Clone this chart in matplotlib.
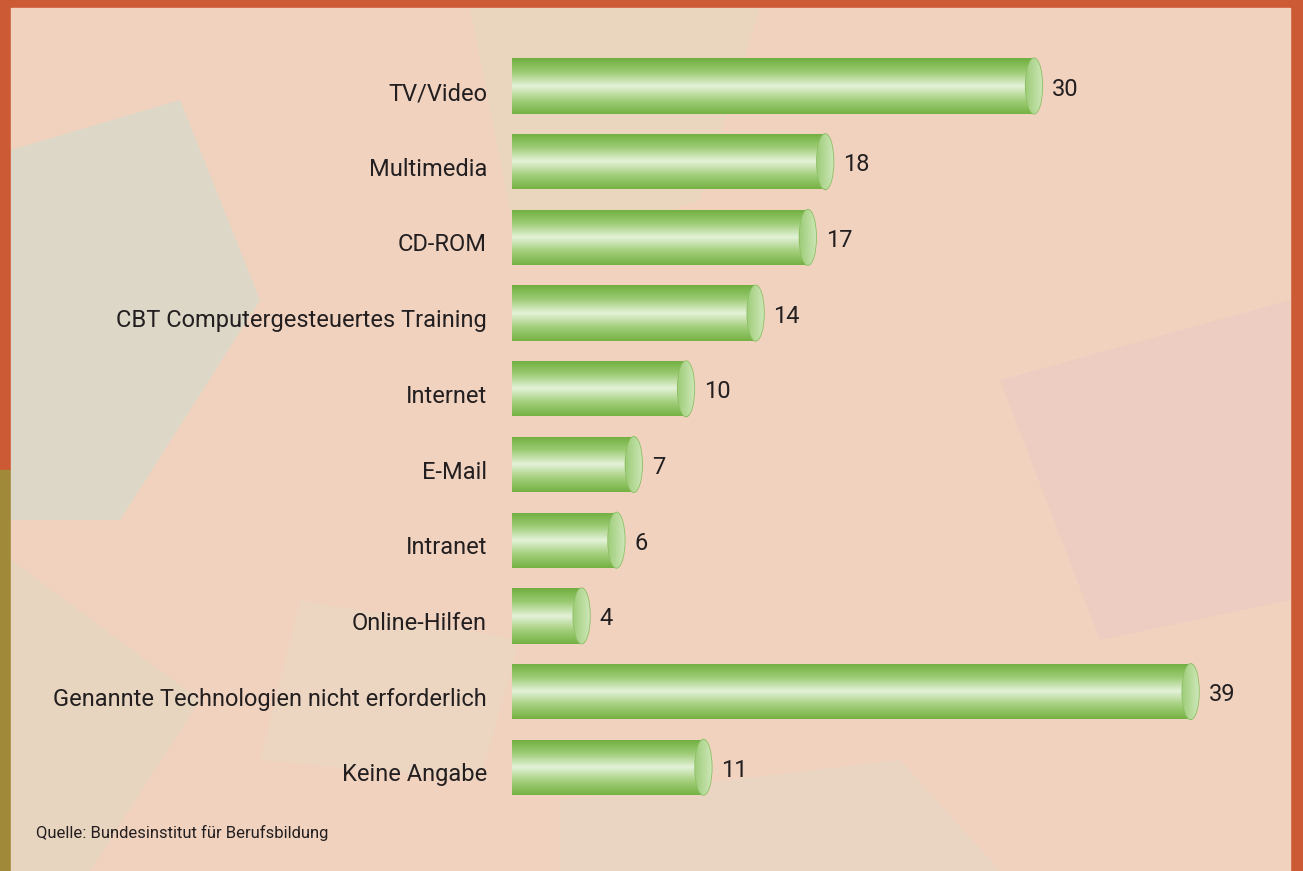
import numpy as np
import matplotlib
matplotlib.use("Agg")
import matplotlib.pyplot as plt
from matplotlib import font_manager
from matplotlib.patches import Ellipse, Rectangle, Polygon
from matplotlib.colors import LinearSegmentedColormap

# Daten
categories = [
    "TV/Video",
    "Multimedia",
    "CD-ROM",
    "CBT Computergesteuertes Training",
    "Internet",
    "E-Mail",
    "Intranet",
    "Online-Hilfen",
    "Genannte Technologien nicht erforderlich",
    "Keine Angabe",
]
values = [30, 18, 17, 14, 10, 7, 6, 4, 39, 11]
source = "Quelle: Bundesinstitut für Berufsbildung"

# Schrift
names = {f.name for f in font_manager.fontManager.ttflist}
family = ["Liberation Sans Narrow", "DejaVu Sans"] if "Liberation Sans Narrow" in names else ["Roboto", "DejaVu Sans"]
plt.rcParams["font.family"] = family

W, H = 1303, 871
fig = plt.figure(figsize=(W / 100, H / 100), dpi=100)
fig.patch.set_facecolor("#c9573b")

# Hintergrund
bg = fig.add_axes([0, 0, 1, 1], zorder=0)
bg.set_xlim(0, W)
bg.set_ylim(H, 0)
bg.axis("off")
bg.add_patch(Rectangle((0, 0), W, H, color="#cc5a35", zorder=0))
bg.add_patch(Rectangle((0, 470), 11, 401, color="#a08a3a", zorder=0.5))
bg.add_patch(Rectangle((11, 8), 1279, H, color="#f0d2bf", zorder=1))
# dezente Flächen
shapes = [
    ([(11, 150), (180, 100), (260, 300), (120, 520), (11, 520)], "#cfdccb", 0.6),
    ([(470, 8), (760, 8), (700, 200), (520, 260)], "#e6d8c0", 0.5),
    ([(11, 560), (200, 700), (90, 871), (11, 871)], "#e2d8c2", 0.5),
    ([(1000, 380), (1290, 300), (1290, 600), (1100, 640)], "#ecc9c4", 0.5),
    ([(300, 600), (520, 640), (480, 780), (260, 760)], "#e9dcc4", 0.45),
    ([(560, 800), (900, 760), (1000, 871), (560, 871)], "#e3dcc8", 0.4),
]
for pts, col, a in shapes:
    bg.add_patch(Polygon(pts, closed=True, color=col, alpha=a, zorder=2, lw=0))

# Balkenachse
scale = 17.4  # px pro Einheit
ax_left, ax_right = 512, 1290
row = 75.7
top = 86 - row / 2
ax = fig.add_axes([ax_left / W, 1 - (top + 10 * row) / H,
                   (ax_right - ax_left) / W, 10 * row / H], zorder=2)
ax.set_xlim(0, (ax_right - ax_left) / scale)
ax.set_ylim(9.5, -0.5)
ax.axis("off")
ax.patch.set_alpha(0)

ypos = np.arange(len(categories))
bar_h = 0.73
bars = ax.barh(ypos, values, height=bar_h, color="none", edgecolor="none")

body = LinearSegmentedColormap.from_list(
    "body", ["#6fae3e", "#9ccb74", "#e4f2d8", "#a4cf7c", "#74b143"])
grad = np.linspace(0, 1, 256).reshape(-1, 1)
cap_w = 0.95

for b, v in zip(bars, values):
    y0 = b.get_y()
    im = ax.imshow(grad, cmap=body, aspect="auto", interpolation="bicubic",
                   extent=(0, v, y0 + bar_h, y0), zorder=3)
    im.set_clip_path(b)
    b.set_zorder(3)
    cap = Ellipse((v, y0 + bar_h / 2), cap_w, bar_h, facecolor="#b5da98",
                  edgecolor="#8cc063", lw=1.2, zorder=4)
    ax.add_patch(cap)
    capimg = ax.imshow(np.linspace(0, 1, 64).reshape(1, -1),
                       cmap=LinearSegmentedColormap.from_list("c", ["#9fcd7a", "#cde7b8"]),
                       aspect="auto", extent=(v - cap_w / 2, v + cap_w / 2, y0 + bar_h, y0),
                       zorder=4.5)
    capimg.set_clip_path(cap)
    ax.text(v + cap_w / 2 + 0.55, y0 + bar_h / 2 + 0.04, str(v), va="center", ha="left",
            fontsize=17, color="#231f20", zorder=5)

# Kategorien
for y, lab in zip(ypos, categories):
    ax.text(-25 / scale, y + 0.1, lab, va="center", ha="right", fontsize=17,
            color="#231f20", clip_on=False)

ax.set_xlim(0, (ax_right - ax_left) / scale)
ax.set_ylim(9.5, -0.5)

bg.text(36, 838, source, fontsize=12, color="#231f20", va="baseline", ha="left", zorder=5)

fig.savefig("out.png", dpi=100)
